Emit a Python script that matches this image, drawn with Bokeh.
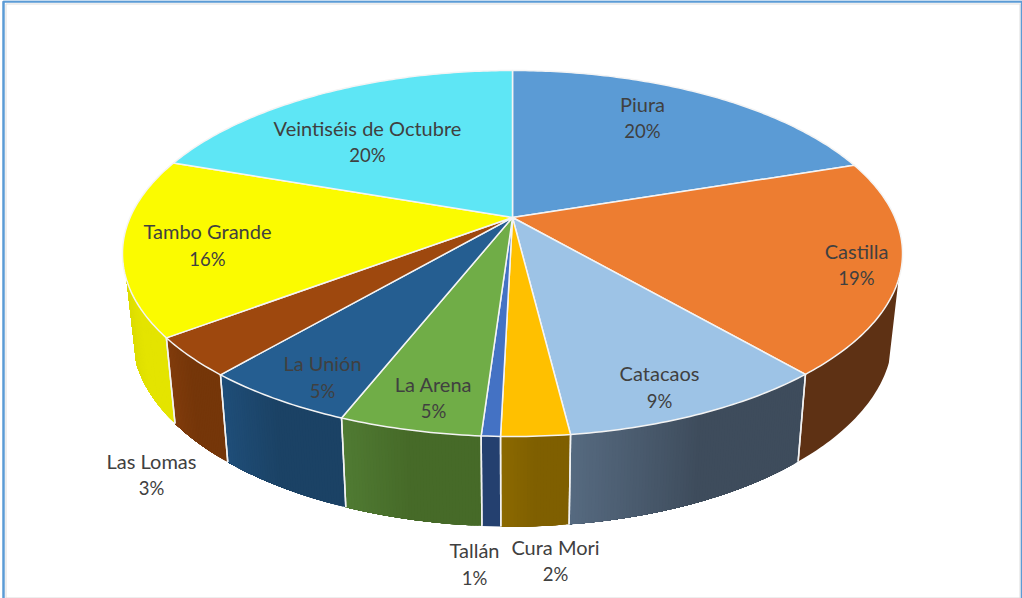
import numpy as np
from bokeh.core.properties import value
from bokeh.embed import file_html
from bokeh.models import ColumnDataSource, Range1d
from bokeh.plotting import figure
from bokeh.resources import INLINE

# ---- data ----
distritos = ["Piura", "Castilla", "Catacaos", "Cura Mori", "Tallán", "La Arena",
             "La Unión", "Las Lomas", "Tambo Grande", "Veintiséis de Octubre"]
valores = [19.9, 18.8, 9.35, 2.35, 0.65, 4.9, 5.3, 3.45, 15.65, 19.65]
etiquetas_pct = ["20%", "19%", "9%", "2%", "1%", "5%", "5%", "3%", "16%", "20%"]

# ---- styling ----
top_colors = ["#5B9BD5", "#ED7D31", "#9DC3E6", "#FFC000", "#4472C4", "#70AD47",
              "#255E91", "#9E480E", "#FBFB00", "#5EE6F5"]
wall_left = ["#5B9BD5", "#5E3114", "#566A80", "#8C6A00", "#24406F", "#507B33",
             "#1F4E79", "#813C0C", "#DCDC00", "#5EE6F5"]
wall_right = ["#5B9BD5", "#5E3114", "#3E4C5C", "#7F5F00", "#24406F", "#466A28",
              "#1B4265", "#753609", "#E4E400", "#5EE6F5"]
label_x = [642, 856, 659, 555, 474, 433, 322, 151, 207, 367]
label_y1 = [103, 250, 372, 546, 549, 383, 362, 460, 230, 127]
label_y2 = [130, 277, 400, 573, 577, 410, 390, 487, 258, 154]
FONT = "Lato"
NAME_SIZE = "20px"
PCT_SIZE = "18.5px"
TEXT_COLOR = "#404040"

# ---- perspective projection of the disc ----
CX, CY_TOP, CY_BOT = 512.0, 253.0, 335.0
A, B, C, K = 382.4, 183.0, 36.0, 0.1967
X_SHRINK, Y_GROW = 0.975, 191.0 / 183.0
WALL_FROM, WALL_TO = 109.3, 250.7   # visible part of the side, degrees
GRADIENT_REACH = 2.0                # the side shade settles before the slice ends


def project(theta_deg):
    t = np.radians(theta_deg)
    den = 1 + K * np.cos(t)
    return A * np.sin(t) / den, (B * np.cos(t) + C) / den


def top_xy(theta_deg):
    u, v = project(theta_deg)
    return CX + u, CY_TOP - v


def bottom_xy(theta_deg):
    u, v = project(theta_deg)
    return CX + u * X_SHRINK, CY_BOT - v * Y_GROW


def hex2rgb(h):
    return np.array([int(h[i:i + 2], 16) for i in (1, 3, 5)], dtype=float)


def mix(a, b, f):
    c = hex2rgb(a) * (1 - f) + hex2rgb(b) * f
    return "#%02x%02x%02x" % tuple(int(round(v)) for v in c)


total = sum(valores)
edges = np.concatenate([[0.0], np.cumsum(valores)]) * 360.0 / total
ax, ay = CX, CY_TOP - C

p = figure(width=1022, height=598, output_backend="svg", toolbar_location=None,
           x_range=Range1d(0, 1022), y_range=Range1d(598, 0), min_border=0)
p.axis.visible = False
p.grid.visible = False
p.outline_line_color = None
p.background_fill_color = "#ffffff"
p.border_fill_color = "#ffffff"

# ---- frame ----
p.line([5.5, 5.5, 1019.5, 1019.5, 5.5], [3.5, 597.5, 597.5, 3.5, 3.5],
       line_color="#DDDDDD", line_width=1)
p.line([3, 3, 1021.5, 1021.5], [598, 1, 1, 598], line_color="#5B9BD5", line_width=2.5)

# ---- side walls: each strip reaches to the slice end, later strips paint over ----
wx, wy, wc = [], [], []
sep_x, sep_y = [], []
for i in range(len(distritos)):
    a0 = max(edges[i], WALL_FROM)
    a1 = min(edges[i + 1], WALL_TO)
    if a1 <= a0:
        continue
    n = 1 if wall_left[i] == wall_right[i] else max(2, int((a1 - a0) / 0.4))
    grid = np.linspace(a0, a1, n + 1)
    for j in range(n):
        g = np.linspace(grid[j], a1, max(3, int((a1 - grid[j]) / 0.75)))
        tx, ty = top_xy(g)
        bx, by = bottom_xy(g)
        wx.append(list(tx) + list(bx[::-1]))
        wy.append(list(ty) + list(by[::-1]))
        # the wall runs right-to-left as the angle grows
        from_left = 1 - (j + 0.5) / n
        wc.append(mix(wall_left[i], wall_right[i], min(1.0, GRADIENT_REACH * from_left)))
    for a in (a0, a1):
        if WALL_FROM < a < WALL_TO:
            tx, ty = top_xy(a)
            bx, by = bottom_xy(a)
            sep_x.append([tx, bx])
            sep_y.append([ty, by])

p.patches(xs="x", ys="y", fill_color="c", line_color=None,
          source=ColumnDataSource(dict(x=wx, y=wy, c=wc)))
p.multi_line(xs=sep_x, ys=sep_y, line_color="#F2F2F2", line_width=1.5)

# ---- top slices ----
sx, sy = [], []
for i in range(len(distritos)):
    n = max(3, int((edges[i + 1] - edges[i]) / 0.75))
    g = np.linspace(edges[i], edges[i + 1], n + 1)
    tx, ty = top_xy(g)
    sx.append([ax] + list(tx))
    sy.append([ay] + list(ty))

p.patches(xs="x", ys="y", fill_color="c", line_color="#F4F4F4", line_width=1.5,
          line_join="round",
          source=ColumnDataSource(dict(x=sx, y=sy, c=top_colors)))

# ---- labels ----
src = ColumnDataSource(dict(x=label_x, y1=label_y1, y2=label_y2,
                            name=distritos, pct=etiquetas_pct))
for col, ycol, size in (("name", "y1", NAME_SIZE), ("pct", "y2", PCT_SIZE)):
    p.text(x="x", y=ycol, text=col, source=src, text_font=value(FONT),
           text_font_size=value(size), text_color=TEXT_COLOR,
           text_align="center", text_baseline="middle")

open("out.html", "w").write(file_html(p, INLINE))
